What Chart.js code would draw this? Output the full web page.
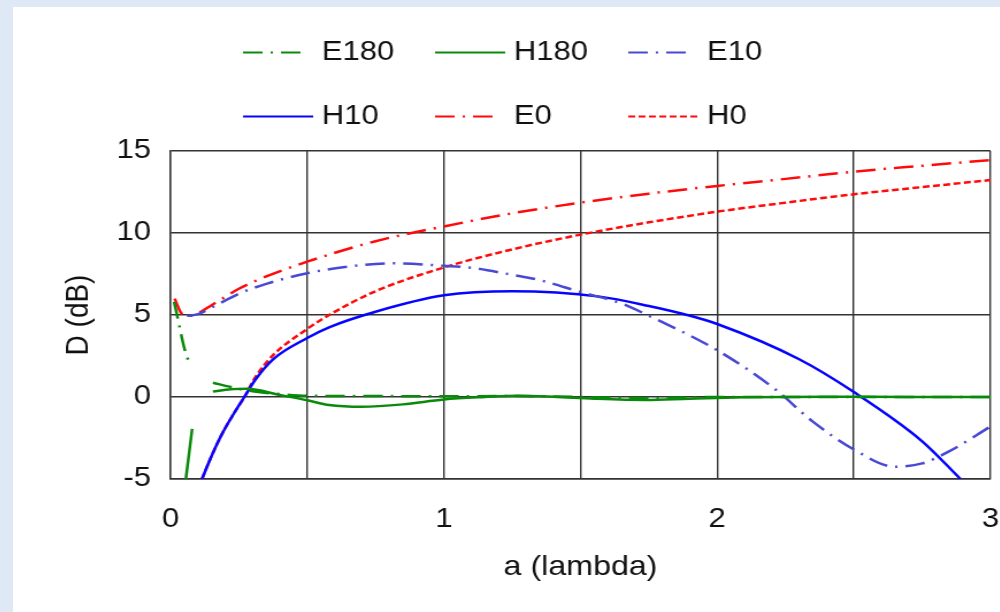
<!DOCTYPE html>
<html>
<head>
<meta charset="utf-8">
<script src="https://cdn.jsdelivr.net/npm/chart.js@4.4.0/dist/chart.umd.min.js"></script>
<style>
  body { margin: 0; background: #dfe9f5; width: 1000px; height: 612px; overflow: hidden; }
  #panel { position: absolute; left: 13px; top: 7px; width: 987px; height: 605px; background: #fff; overflow: hidden; }
  #box { width: 858px; height: 605px; transform: scaleX(1.15); transform-origin: 0 0; }
</style>
</head>
<body>
<div id="panel"><div id="box"><canvas id="myChart" width="858" height="605"></canvas></div></div>
<script>
// a (lambda) and D (dB), one pair of arrays per curve
const e180A = [0.013, 0.03, 0.05, 0.072, 0.11, 0.155, 0.23, 0.3, 0.4, 0.5, 0.75, 1.0, 1.25, 1.5, 1.75, 2.0, 2.5, 3.0];
const e180D = [5.8, 4.5, 3.0, 1.9, null, 0.87, 0.57, 0.35, 0.18, 0.08, 0.06, 0.04, 0.06, 0.0, -0.06, 0.0, 0.0, 0.0];

const h180A = [0.056, 0.079, 0.11, 0.155, 0.22, 0.28, 0.4, 0.5, 0.58, 0.7, 0.85, 1.0, 1.15, 1.27, 1.4, 1.55, 1.74, 1.9, 2.1, 2.4, 2.7, 3.0];
const h180D = [-5.0, -1.95, null, 0.33, 0.47, 0.5, 0.12, -0.2, -0.49, -0.6, -0.45, -0.15, 0.0, 0.08, 0.02, -0.1, -0.18, -0.1, -0.02, 0.02, 0.0, 0.0];

const e10A = [0.06, 0.1, 0.15, 0.25, 0.35, 0.5, 0.65, 0.82, 1.0, 1.1, 1.25, 1.35, 1.5, 1.65, 1.75, 2.0, 2.21, 2.35, 2.5, 2.65, 2.75, 2.85, 3.0];
const e10D = [4.95, 5.05, 5.45, 6.3, 6.9, 7.55, 7.95, 8.15, 8.0, 7.88, 7.45, 7.13, 6.4, 5.7, 4.95, 2.85, 0.5, -1.5, -3.2, -4.25, -4.05, -3.3, -1.8];

const h10A = [0.115, 0.15, 0.19, 0.23, 0.27, 0.31, 0.375, 0.5, 0.58, 0.75, 1.0, 1.25, 1.57, 1.75, 1.89, 2.0, 2.3, 2.5, 2.75, 2.89];
const h10D = [-5.0, -3.6, -2.2, -1.05, 0.0, 1.05, 2.3, 3.6, 4.25, 5.2, 6.2, 6.45, 6.12, 5.55, 5.0, 4.45, 2.3, 0.3, -2.7, -5.0];

const e0A = [0.015, 0.04, 0.07, 0.1, 0.15, 0.19, 0.25, 0.35, 0.5, 0.75, 1.0, 1.25, 1.5, 1.75, 2.0, 2.25, 2.5, 2.75, 3.0];
const e0D = [6.0, 5.1, 4.95, 5.1, 5.6, 6.0, 6.6, 7.35, 8.25, 9.5, 10.4, 11.2, 11.85, 12.4, 12.87, 13.3, 13.74, 14.1, 14.45];

const h0A = [0.115, 0.15, 0.19, 0.23, 0.27, 0.31, 0.375, 0.5, 0.58, 0.75, 1.0, 1.25, 1.5, 1.75, 2.0, 2.25, 2.5, 2.75, 3.0];
const h0D = [-5.0, -3.6, -2.2, -1.05, 0.0, 1.2, 2.55, 4.15, 5.0, 6.45, 7.9, 9.0, 9.9, 10.65, 11.3, 11.85, 12.36, 12.8, 13.23];

const FONT = "'Liberation Sans', Arial, sans-serif";
const dashDot = [17, 7, 2, 7];

function pts(xs, ys) {
    return xs.map((x, i) => ({ x: x, y: ys[i] }));
}

function line(label, xs, ys, color, dash) {
    return {
        label: label,
        data: pts(xs, ys),
        borderColor: color,
        backgroundColor: color,
        borderWidth: 2.5,
        borderDash: dash,
        pointRadius: 0,
        fill: false,
        cubicInterpolationMode: 'monotone'
    };
}

// legend drawn as a 3 column grid, like the original
const legendGrid = {
    id: 'legendGrid',
    afterDraw(chart, args, opts) {
        const ctx = chart.ctx;
        ctx.save();
        ctx.font = opts.font;
        ctx.textBaseline = 'middle';
        ctx.textAlign = 'left';
        chart.data.datasets.forEach((ds, i) => {
            const x = opts.cols[i % 3];
            const y = opts.rows[Math.floor(i / 3)];
            const len = ds.borderDash.length > 2 ? opts.shortLine : opts.longLine;
            ctx.strokeStyle = ds.borderColor;
            ctx.lineWidth = 2;
            ctx.setLineDash(ds.borderDash);
            ctx.beginPath();
            ctx.moveTo(x, y);
            ctx.lineTo(x + len, y);
            ctx.stroke();
            ctx.fillStyle = opts.color;
            ctx.fillText(ds.label, x + opts.textGap, y);
        });
        ctx.restore();
    }
};

const gridColor = '#333';

new Chart(document.getElementById('myChart').getContext('2d'), {
    type: 'line',
    data: {
        datasets: [
            line('E180', e180A, e180D, '#0a8a0a', dashDot),
            line('H180', h180A, h180D, '#0a8a0a', []),
            line('E10', e10A, e10D, '#4848d4', dashDot),
            line('H10', h10A, h10D, '#0505ff', []),
            line('E0', e0A, e0D, '#ff0a0a', dashDot),
            line('H0', h0A, h0D, '#ff0a0a', [6, 3])
        ]
    },
    plugins: [legendGrid],
    options: {
        responsive: false,
        animation: false,
        layout: { padding: { top: 144, right: 8, left: 0, bottom: 0 } },
        scales: {
            x: {
                type: 'linear',
                min: 0,
                max: 3,
                afterFit: s => {
                    s.height = 133;
                    s.paddingLeft = 0;
                    s.paddingRight = 0;
                },
                ticks: {
                    stepSize: 0.5,
                    padding: 24,
                    maxRotation: 0,
                    color: '#111',
                    font: { family: FONT, size: 27 },
                    callback: v => Number.isInteger(v) ? v : ''
                },
                grid: { color: gridColor, lineWidth: 1.4, drawTicks: false },
                border: { color: gridColor, width: 1.4 },
                title: {
                    display: true,
                    text: 'a (lambda)',
                    color: '#111',
                    font: { family: FONT, size: 28 },
                    padding: { top: 0, bottom: 28 }
                }
            },
            y: {
                min: -5,
                max: 15,
                afterFit: s => { s.width = 137; },
                ticks: {
                    stepSize: 5,
                    padding: 17,
                    color: '#111',
                    font: { family: FONT, size: 27 }
                },
                grid: { color: gridColor, lineWidth: 1.4, drawTicks: false },
                border: { color: gridColor, width: 1.4 },
                title: {
                    display: true,
                    text: 'D (dB)',
                    color: '#111',
                    font: { family: FONT, size: 28 },
                    padding: { top: 40, bottom: 0 }
                }
            }
        },
        plugins: {
            legend: { display: false },
            tooltip: { enabled: false },
            legendGrid: {
                cols: [200, 367, 535],
                rows: [45.5, 109.5],
                shortLine: 52,
                longLine: 61,
                textGap: 68.5,
                color: '#111',
                font: '27px ' + FONT
            }
        }
    }
});
</script>
</body>
</html>
